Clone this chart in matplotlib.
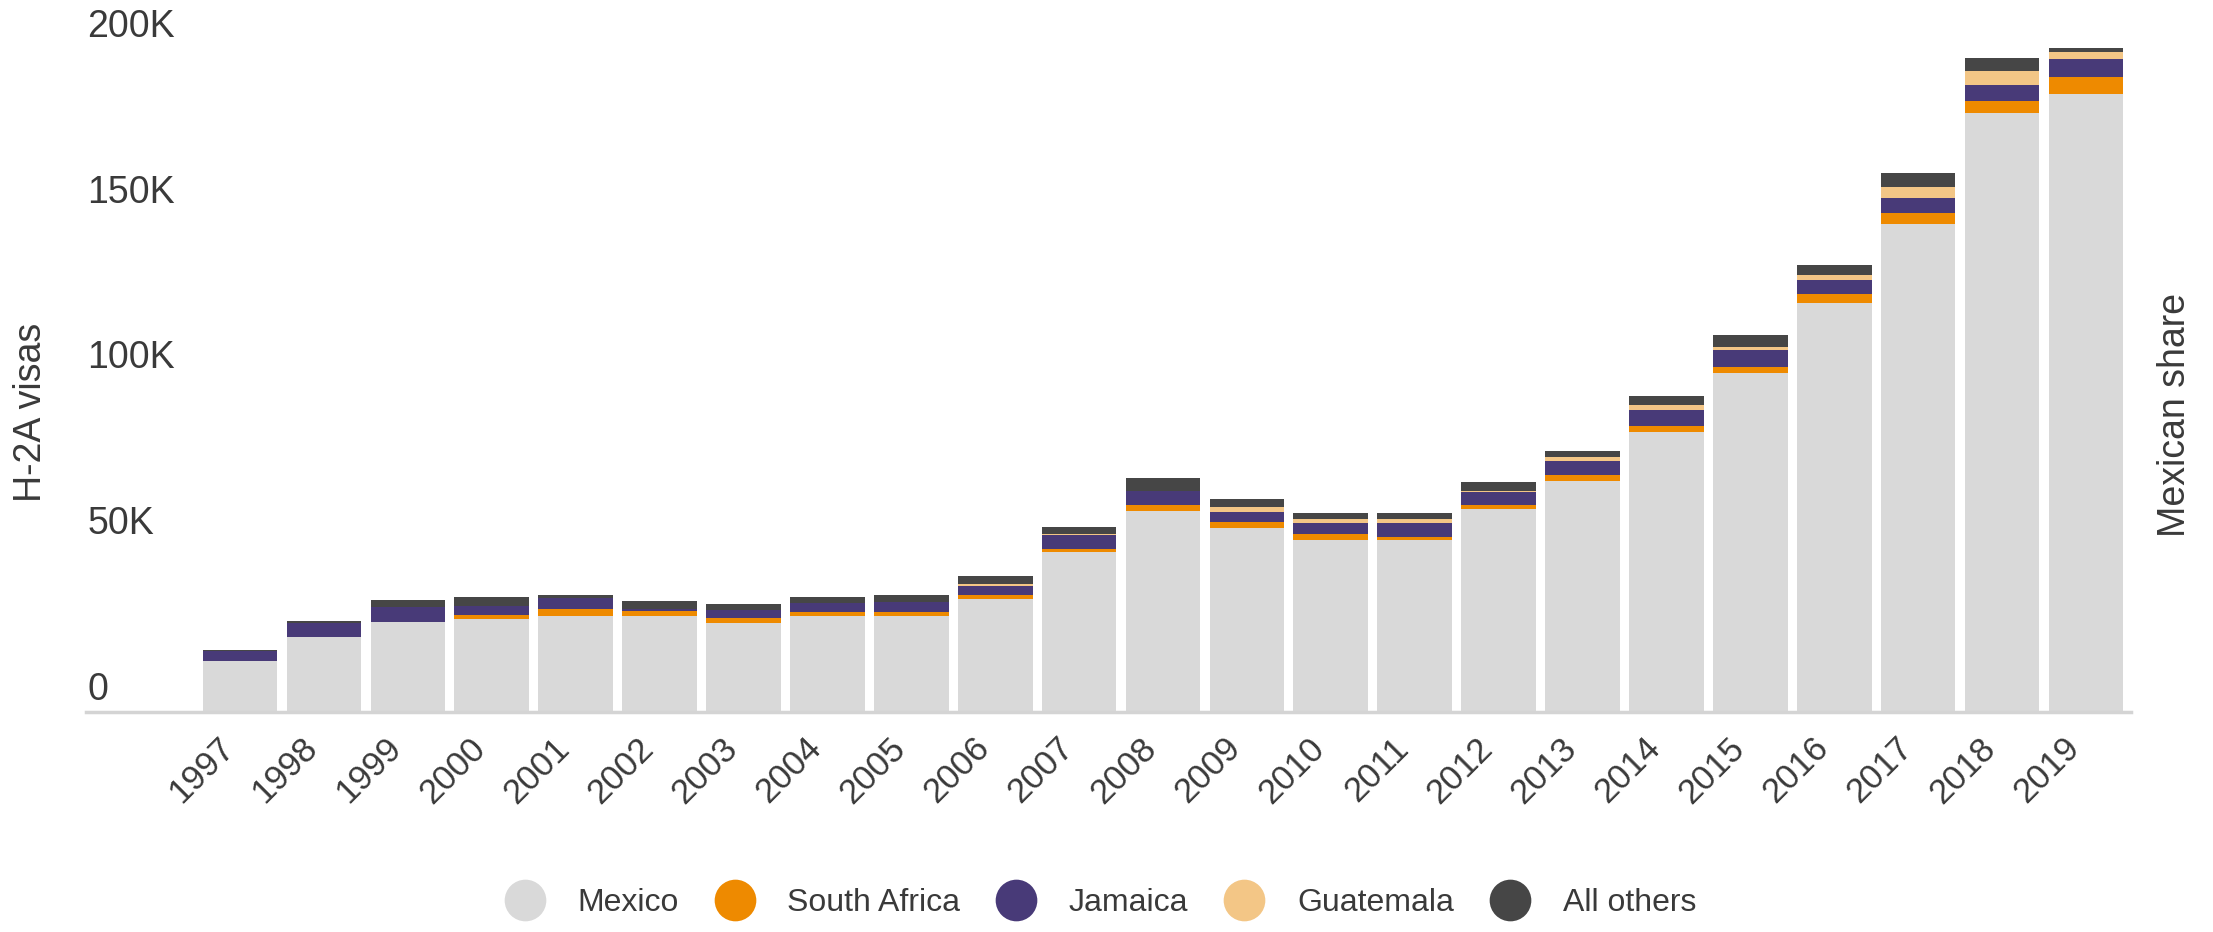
import numpy as np
import matplotlib
matplotlib.use("Agg")
import matplotlib.pyplot as plt
from matplotlib.lines import Line2D
from matplotlib import transforms

plt.rcParams['font.family'] = ['Liberation Sans', 'DejaVu Sans']

# data, thousands of H-2A visas
years = [str(y) for y in range(1997, 2020)]
mexico = [15.5, 22.5, 27.0, 28.1, 28.8, 28.8, 26.9, 28.8, 28.8, 34.1, 48.3, 60.5,
          55.4, 51.9, 51.9, 61.2, 69.8, 84.4, 102.3, 123.3, 147.2, 180.6, 186.4]
south_africa = [0.0, 0.0, 0.0, 1.3, 2.3, 1.8, 1.3, 1.3, 1.3, 1.3, 1.0, 2.0,
                2.0, 1.8, 1.0, 1.3, 1.8, 2.0, 1.8, 2.8, 3.2, 3.8, 5.2]
jamaica = [3.0, 4.2, 4.7, 2.7, 3.3, 0.5, 2.7, 2.7, 3.0, 2.7, 4.1, 4.1,
           3.0, 3.2, 4.0, 4.0, 4.0, 4.6, 5.0, 4.2, 4.7, 4.7, 5.3]
guatemala = [0.0, 0.0, 0.0, 0.0, 0.0, 0.0, 0.0, 0.0, 0.0, 0.6, 0.2, 0.2,
             1.5, 1.3, 1.3, 0.3, 1.2, 1.5, 1.0, 1.6, 3.3, 4.3, 2.3]
others = [0.2, 0.8, 2.0, 2.5, 1.0, 2.5, 1.7, 1.8, 2.3, 2.3, 2.2, 3.8,
          2.2, 1.7, 1.7, 2.7, 1.8, 2.8, 3.7, 2.9, 4.3, 3.8, 1.2]

series = ['Mexico', 'South Africa', 'Jamaica', 'Guatemala', 'All others']
colors = ['#d9d9d9', '#ee8a00', '#483a78', '#f3c686', '#464646']
y_ticks = [0, 50, 100, 150, 200]
y_tick_labels = ['0', '50K', '100K', '150K', '200K']

text_color = '#3a3a3a'

fig = plt.figure(figsize=(22.13, 9.32), dpi=100)
ax = fig.add_axes([0.0389, 0.2361, 0.924, 0.7291])

x = np.arange(len(years))
bottom = np.zeros(len(years))
for name, vals, c in zip(series, [mexico, south_africa, jamaica, guatemala, others], colors):
    ax.bar(x, vals, width=0.89, bottom=bottom, color=c, linewidth=0)
    bottom += np.array(vals)

ax.set_xlim(-1.836, 22.536)
ax.set_ylim(0, 205)

for s in ['top', 'right', 'left']:
    ax.spines[s].set_visible(False)
ax.spines['bottom'].set_color('#d4d4d4')
ax.spines['bottom'].set_linewidth(2.5)

ax.set_xticks(x)
ax.set_xticklabels(years, rotation=45, ha='right', va='top', rotation_mode='anchor',
                   fontsize=25, color=text_color)
ax.tick_params(axis='x', length=0, pad=14)
# nudge the rotated year labels left so they end under the bar centre
shift = transforms.ScaledTranslation(-0.23, 0, fig.dpi_scale_trans)
for lab in ax.get_xticklabels():
    lab.set_transform(lab.get_transform() + shift)

# y labels sit above their value lines, left aligned
ax.set_yticks([])
trans = transforms.offset_copy(ax.get_yaxis_transform(), fig=fig, x=0, y=12, units='dots')
for v, lab in zip(y_ticks, y_tick_labels):
    ax.text(0.0005, v, lab, transform=trans, ha='left', va='baseline',
            fontsize=27, color=text_color)

fig.text(31 / 2213, 1 - 412 / 932, 'H-2A visas', rotation=90, ha='center', va='center',
         fontsize=27, color=text_color)
fig.text(2175 / 2213, 1 - 415 / 932, 'Mexican share', rotation=90, ha='center', va='center',
         fontsize=27, color=text_color)

handles = [Line2D([], [], marker='o', linestyle='none', markersize=30,
                  markerfacecolor=c, markeredgewidth=0) for c in colors]
fig.legend(handles, series, loc='center', bbox_to_anchor=(0.497, 1 - 903 / 932),
           ncol=5, frameon=False, fontsize=23, handlelength=1.3, handletextpad=1.0,
           columnspacing=1.1, labelcolor=text_color)

fig.savefig('out.png', dpi=100)
